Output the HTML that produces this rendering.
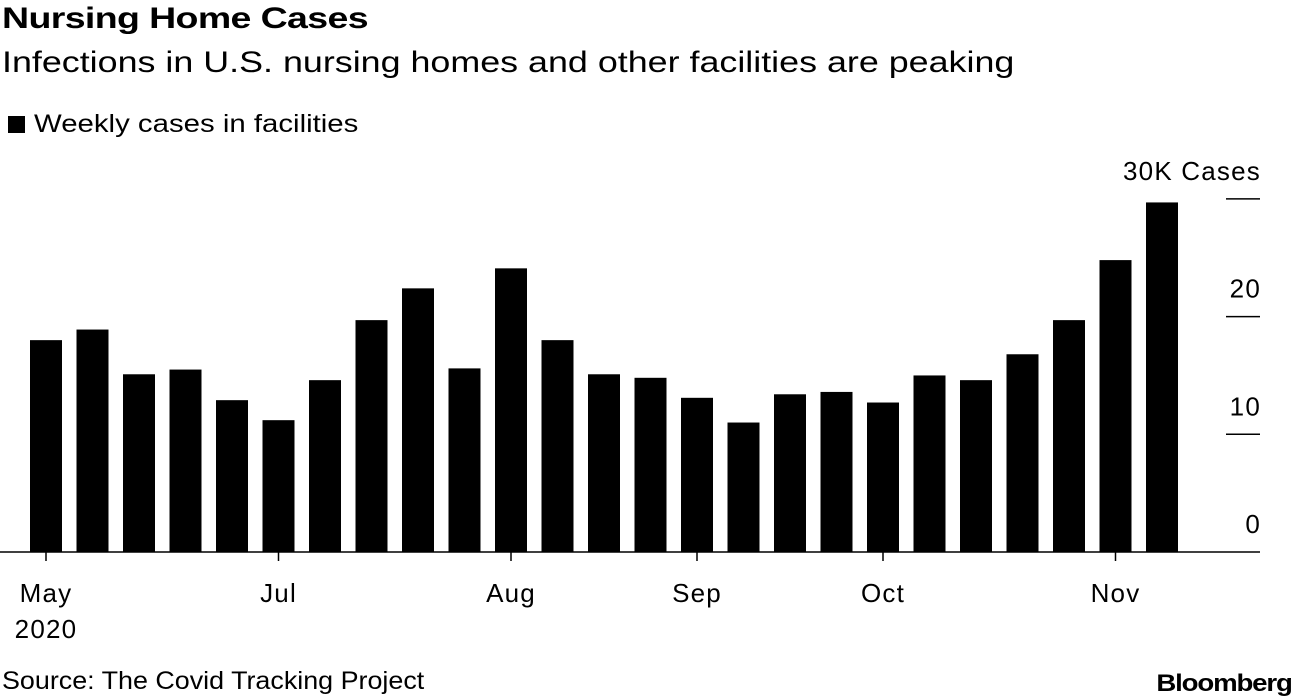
<!DOCTYPE html>
<html><head><meta charset="utf-8"><style>
body{margin:0;width:1296px;height:698px;background:#fff;font-family:"Liberation Sans",sans-serif;overflow:hidden;position:relative}
.t{position:absolute;white-space:nowrap;color:#000;transform-origin:left top}
</style></head><body>
<div class="t" style="left:2px;top:2px;font-size:30px;font-weight:bold;letter-spacing:-0.5px;transform:scaleX(1.25)">Nursing Home Cases</div>
<div class="t" style="left:2px;top:46px;font-size:30px;transform:scaleX(1.195)">Infections in U.S. nursing homes and other facilities are peaking</div>
<div style="position:absolute;left:8px;top:116px;height:20px">
<div style="position:absolute;left:0;top:0;width:17px;height:17px;background:#000"></div>
<div class="t" style="left:26px;top:-6px;font-size:25px;transform:scaleX(1.175)">Weekly cases in facilities</div></div>
<svg id="chart" width="1296" height="698" style="position:absolute;left:0;top:0"></svg>
<div class="t" style="left:2px;top:667px;font-size:25px;transform:scaleX(1.075)">Source: The Covid Tracking Project</div>
<div class="t" style="right:4px;top:670px;font-size:24px;font-weight:bold;letter-spacing:-1px;transform:scaleX(1.15);transform-origin:right top">Bloomberg</div>
<script>
const values=[18.0,18.9,15.1,15.5,12.9,11.2,14.6,19.7,22.4,15.6,24.1,18.0,15.1,14.8,13.1,11.0,13.4,13.6,12.7,15.0,14.6,16.8,19.7,24.8,29.7];
const yTicks=[0,10,20,30];
const yTickLabels=["0","10","20","30K Cases"];
const xTickIdx=[0,5,10,14,18,23];
const xTickLabels=["May","Jul","Aug","Sep","Oct","Nov"];
const svg=document.getElementById('chart');
const NS='http://www.w3.org/2000/svg';
const y0=552,pxPer=11.77,x0=46,step=46.5,bw=32;
const y=v=>y0-v*pxPer;
const x=i=>x0+i*step;
function mk(tag,at){const e=document.createElementNS(NS,tag);for(const k in at)e.setAttribute(k,at[k]);svg.appendChild(e);return e;}
values.forEach((v,i)=>{
const r=mk('rect',{x:x(i)-bw/2,y:y(v),width:bw,height:v*pxPer,fill:'#000'});


});
const lblStyle={'font-size':26,'letter-spacing':1.2,'font-family':'Liberation Sans, sans-serif'};
yTicks.forEach((t,i)=>{
if(t>0){const l=mk('line',{x1:1226,x2:1260,y1:y(t),y2:y(t),stroke:'#000','stroke-width':1.5});

}
const tx=mk('text',Object.assign({x:1261,y:y(t)-19,'text-anchor':'end'},lblStyle));
tx.textContent=yTickLabels[i];


});
const base=mk('line',{x1:0,x2:1260,y1:y0,y2:y0,stroke:'#000','stroke-width':1.5});


xTickIdx.forEach((idx,i)=>{
const l=mk('line',{x1:x(idx),x2:x(idx),y1:y0,y2:y0+9,stroke:'#000','stroke-width':1.5});


const tx=mk('text',Object.assign({x:x(idx),y:602,'text-anchor':'middle'},lblStyle));
tx.textContent=xTickLabels[i];


});
const yr=mk('text',Object.assign({x:x(0),y:638,'text-anchor':'middle'},lblStyle));
yr.textContent='2020';


</script>
</body></html>
